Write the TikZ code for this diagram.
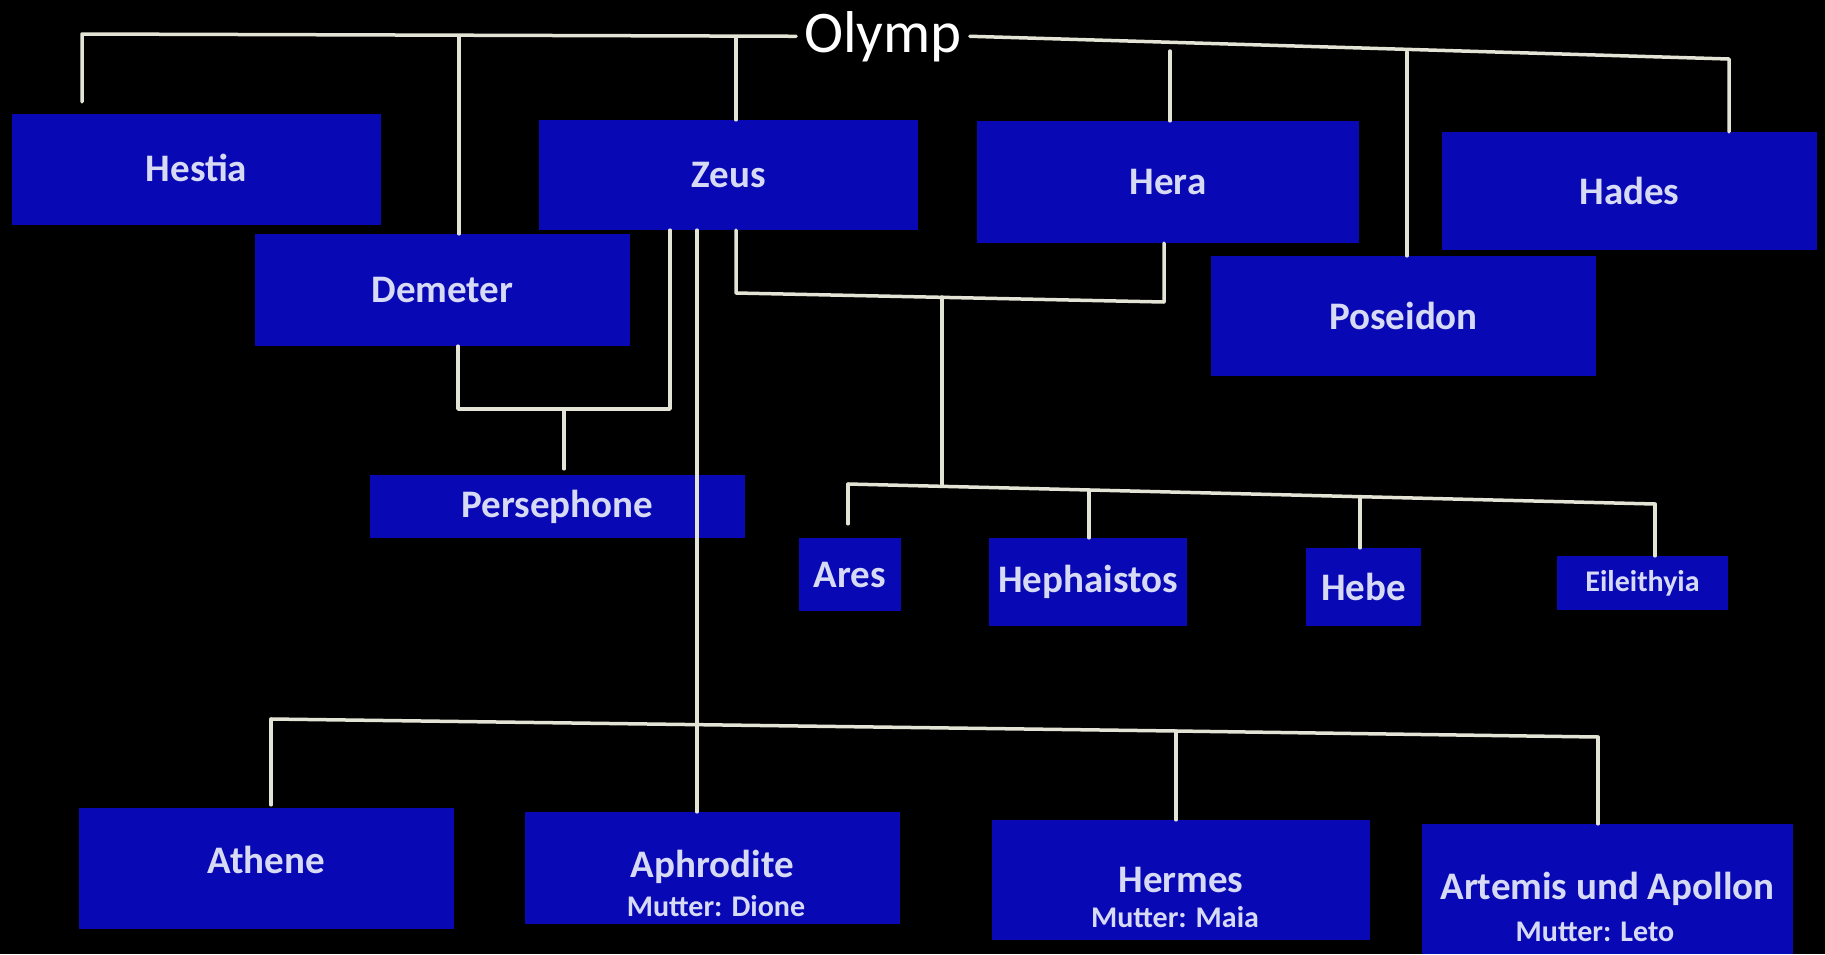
\documentclass[tikz,border=0pt]{standalone}
\usepackage{fontspec}
\setmainfont{Carlito}
\usetikzlibrary{calc}
\definecolor{boxblue}{RGB}{8,8,180}
\definecolor{lbl}{RGB}{215,218,245}
\definecolor{wire}{RGB}{228,228,214}
\begin{document}
\begin{tikzpicture}[x=1pt,y=-1pt,
  godbox/.style={fill=boxblue, text=lbl, font=\bfseries\fontsize{39}{44}\selectfont, inner sep=0pt},
  smallbox/.style={godbox, font=\bfseries\fontsize{30}{34}\selectfont},
  sublbl/.style={text=lbl, font=\bfseries\fontsize{30}{34}\selectfont, inner sep=0pt},
  conn/.style={draw=wire, line width=3.5pt, line cap=round, line join=round},
]
\fill[black] (0,0) rectangle (1825,954);
\useasboundingbox (0,0) rectangle (1825,954);

% title
\node[text=white, font=\fontsize{59}{64}\selectfont, inner sep=8pt, anchor=base] (olymp) at (883,52) {Olymp};

% first generation
\node[godbox, minimum width=369pt, minimum height=111pt] (hestia) at (196.5,169.5) {\raisebox{3pt}{Hestia}};
\node[godbox, minimum width=375pt, minimum height=112pt] (demeter) at (442.5,290) {Demeter};
\node[godbox, minimum width=379pt, minimum height=110pt] (zeus) at (728.5,175) {Zeus};
\node[godbox, minimum width=382pt, minimum height=122pt] (hera) at (1168,182) {Hera};
\node[godbox, minimum width=375pt, minimum height=118pt] (hades) at (1629.5,191) {Hades};
\node[godbox, minimum width=385pt, minimum height=120pt] (poseidon) at (1403.5,316) {Poseidon};

% children
\node[godbox, minimum width=375pt, minimum height=63pt] (persephone) at (557.5,506.5) {Persephone};
\node[godbox, minimum width=102pt, minimum height=73pt] (ares) at (850,574.5) {Ares};
\node[godbox, minimum width=198pt, minimum height=88pt] (hephaistos) at (1088,582) {Hephaistos};
\node[godbox, minimum width=115pt, minimum height=78pt] (hebe) at (1363.5,587) {Hebe};
\node[smallbox, minimum width=171pt, minimum height=54pt] (eileithyia) at (1642.5,583) {Eileithyia};

\node[godbox, minimum width=375pt, minimum height=121pt] (athene) at (266.5,868.5) {\raisebox{18pt}{Athene}};
\node[godbox, minimum width=375pt, minimum height=112pt] (aphrodite) at (712.5,868) {\raisebox{9pt}{Aphrodite}};
\node[godbox, minimum width=378pt, minimum height=120pt] (hermes) at (1181,880) {Hermes};
\node[godbox, minimum width=371pt, minimum height=130pt] (artemis) at (1607.5,889) {\raisebox{2pt}{Artemis und Apollon}};
\node[sublbl] (aphroditeM) at (716,906) {Mutter: Dione};
\node[sublbl] (hermesM) at (1175,917) {Mutter: Maia};
\node[sublbl] (artemisM) at (1595,932) {Mutter: Leto};

% bus coordinates
\coordinate (busL) at (82,34);
\coordinate (demTop) at (459,36);
\coordinate (zeusTop) at (736,38);
\coordinate (heraTop) at (1170,51);
\coordinate (posTop) at (1407,52);
\coordinate (busR) at (1729,59);

\coordinate (demBot) at (458,409);
\coordinate (persJ) at (564,409);
\coordinate (zeusPJ) at (670,409);

\coordinate (zeusHJ) at (736,293);
\coordinate (kidsJ) at (942,297);
\coordinate (heraHJ) at (1164,302);
\coordinate (aresJ) at (848,484);
\coordinate (kidsBus) at (942,486);
\coordinate (hephJ) at (1089,490);
\coordinate (hebeJ) at (1360,497);
\coordinate (eilJ) at (1655,504);

\coordinate (mainX) at (697,723);
\coordinate (athJ) at (271,719);
\coordinate (hermJ) at (1176,731);
\coordinate (artJ) at (1598,737);

% Olymp buses
\draw[conn] (busL |- hestia.north) ++(0,-12) -- (busL) -- (olymp.west);
\draw[conn] (demTop) -- (demTop |- demeter.north);
\draw[conn] (zeusTop) -- (zeusTop |- zeus.north);
\draw[conn] (olymp.east) -- (busR) -- (busR |- hades.north);
\draw[conn] (heraTop) -- (heraTop |- hera.north);
\draw[conn] (posTop) -- (posTop |- poseidon.north);

% Zeus + Demeter -> Persephone
\draw[conn] (demBot |- demeter.south) -- (demBot) -- (zeusPJ) -- (zeusPJ |- zeus.south);
\draw[conn, shorten >=6pt] (persJ) -- (persJ |- persephone.north);

% Zeus + Hera -> children
\draw[conn] (zeusHJ |- zeus.south) -- (zeusHJ) -- (heraHJ) -- (heraHJ |- hera.south);
\draw[conn] (kidsJ) -- (kidsBus);
\draw[conn] (aresJ) -- (eilJ);
\draw[conn, shorten >=14pt] (aresJ) -- (aresJ |- ares.north);
\draw[conn] (hephJ) -- (hephJ |- hephaistos.north);
\draw[conn] (hebeJ) -- (hebeJ |- hebe.north);
\draw[conn] (eilJ) -- (eilJ |- eileithyia.north);

% Zeus -> other children
\draw[conn] (mainX |- zeus.south) -- (mainX |- aphrodite.north);
\draw[conn] (athJ) -- (hermJ) -- (artJ);
\draw[conn, shorten >=3pt] (athJ) -- (athJ |- athene.north);
\draw[conn] (hermJ) -- (hermJ |- hermes.north);
\draw[conn] (artJ) -- (artJ |- artemis.north);
\end{tikzpicture}
\end{document}
